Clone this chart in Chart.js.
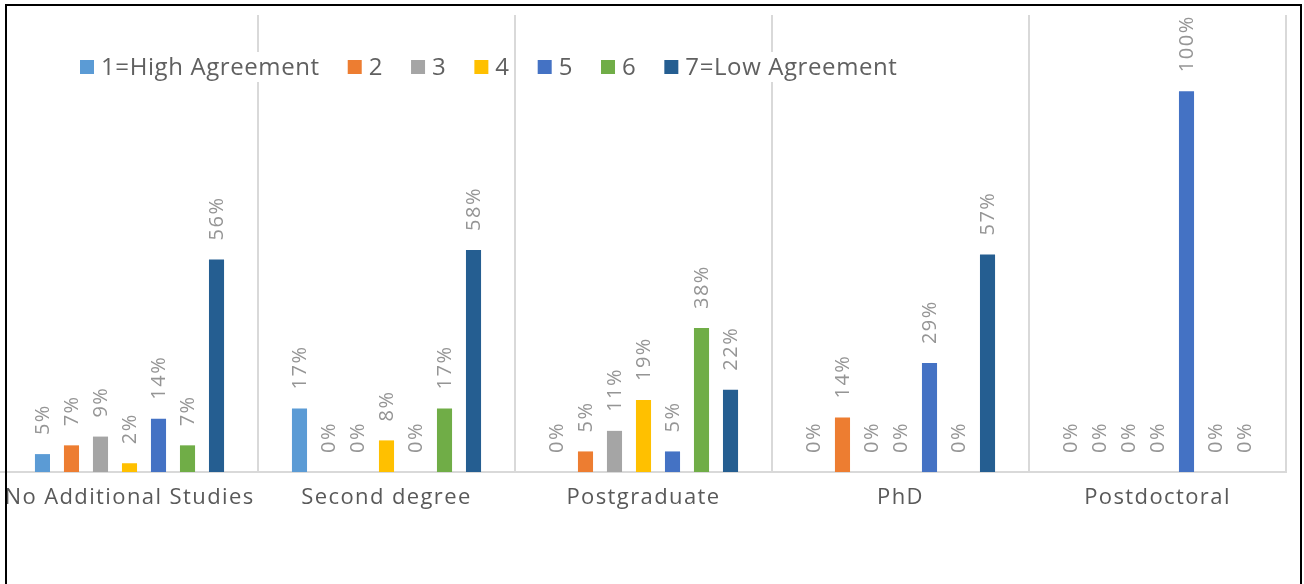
<!DOCTYPE html>
<html>
<head>
<meta charset="utf-8">
<script src="https://cdn.jsdelivr.net/npm/chart.js@4.4.0/dist/chart.umd.min.js"></script>
<style>
  html, body { margin: 0; padding: 0; background: #fff; }
  #wrap { width: 1304px; height: 584px; }
</style>
</head>
<body>
<div id="wrap"><canvas id="chart1" width="1304" height="584"></canvas></div>
<script>
const categories = ['No Additional Studies', 'Second degree', 'Postgraduate', 'PhD', 'Postdoctoral'];
const seriesNames = ['1=High Agreement', '2', '3', '4', '5', '6', '7=Low Agreement'];
const seriesColors = ['#5B9BD5', '#ED7D31', '#A5A5A5', '#FFC000', '#4472C4', '#70AD47', '#255E91'];

// share (%) of answers per education level, one array per agreement level
const level1 = [4.7, 16.7, 0, 0, 0];
const level2 = [7.0, 0, 5.4, 14.3, 0];
const level3 = [9.3, 0, 10.8, 0, 0];
const level4 = [2.3, 8.3, 18.9, 0, 0];
const level5 = [14.0, 0, 5.4, 28.6, 100];
const level6 = [7.0, 16.7, 37.8, 0, 0];
const level7 = [55.8, 58.3, 21.6, 57.1, 0];
const levels = [level1, level2, level3, level4, level5, level6, level7];

const yMax = 120;

Chart.defaults.font.family = '"Open Sans", sans-serif';

// rotated % labels above each bar
const barLabels = {
  id: 'barLabels',
  afterDatasetsDraw(chart) {
    const ctx = chart.ctx;
    ctx.save();
    ctx.letterSpacing = '1.5px';
    ctx.font = '20px "Open Sans"';
    ctx.fillStyle = '#959595';
    ctx.textAlign = 'left';
    ctx.textBaseline = 'middle';
    chart.data.datasets.forEach((ds, i) => {
      chart.getDatasetMeta(i).data.forEach((bar, j) => {
        ctx.save();
        ctx.translate(bar.x + 1, bar.y - 19);
        ctx.rotate(-Math.PI / 2);
        ctx.fillText(Math.round(ds.data[j]) + '%', 0, 0);
        ctx.restore();
      });
    });
    ctx.restore();
  }
};

// legend inside the plot + outer frame
const legendAndFrame = {
  id: 'legendAndFrame',
  beforeDraw(chart) {
    chart.ctx.letterSpacing = '1.4px';
  },
  afterDraw(chart) {
    const ctx = chart.ctx;
    ctx.letterSpacing = '0px';
    ctx.save();
    ctx.font = '24px "Open Sans"';
    ctx.letterSpacing = '0.6px';
    ctx.textBaseline = 'middle';
    let x = 80;
    const y = 67;
    chart.data.datasets.forEach(ds => {
      const w = ctx.measureText(ds.label).width;
      ctx.fillStyle = '#ffffff';
      ctx.fillRect(x, y - 15, 22 + w + 2, 30);
      ctx.fillStyle = ds.backgroundColor;
      ctx.fillRect(x, y - 7, 14, 14);
      ctx.fillStyle = '#606060';
      ctx.fillText(ds.label, x + 21, y + 1);
      x += 21 + w + 28;
    });
    ctx.fillStyle = '#000000';
    ctx.fillRect(5, 4, 2, 580);
    ctx.fillRect(5, 4, 1297, 2);
    ctx.fillRect(1300, 4, 2, 580);
    ctx.restore();
  }
};

new Chart('chart1', {
  type: 'bar',
  data: {
    labels: categories,
    datasets: seriesNames.map((name, i) => ({
      label: name,
      data: levels[i],
      backgroundColor: seriesColors[i],
      categoryPercentage: 0.79,
      barPercentage: 0.52
    }))
  },
  options: {
    responsive: false,
    animation: false,
    layout: { padding: { left: 1, right: 18, top: 15, bottom: 0 } },
    plugins: {
      legend: { display: false },
      tooltip: { enabled: false }
    },
    scales: {
      x: {
        grid: {
          offset: true,
          color: c => c.index === 0 ? 'rgba(0,0,0,0)' : '#d9d9d9',
          lineWidth: 2,
          drawTicks: false
        },
        border: { color: '#d9d9d9', width: 2 },
        ticks: { color: '#595959', font: { size: 22 }, padding: 13, maxRotation: 0, autoSkip: false },
        afterFit: s => { s.height = 112; }
      },
      y: { display: false, min: 0, max: yMax }
    }
  },
  plugins: [barLabels, legendAndFrame]
});
</script>
</body>
</html>
